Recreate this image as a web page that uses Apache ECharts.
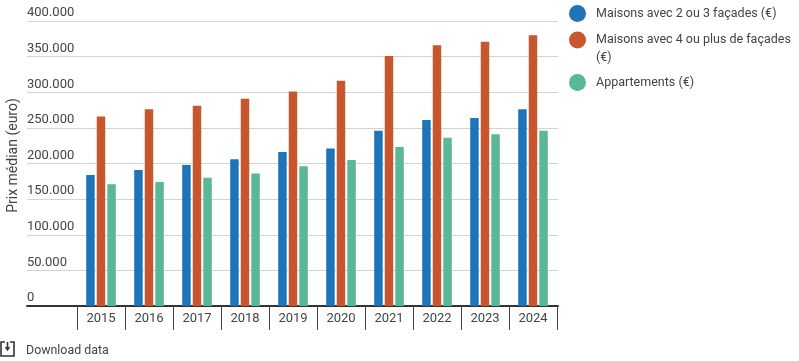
<!DOCTYPE html>
<html><head><meta charset="utf-8">
<style>html,body{margin:0;padding:0;background:#fff}#c{width:799px;height:361px}</style>
<script src="https://cdn.jsdelivr.net/npm/echarts@6/dist/echarts.min.js"></script>
</head><body><div id="c"></div>
<script>
const years = ['2015','2016','2017','2018','2019','2020','2021','2022','2023','2024'];
const maisons23 = [184000,191000,198000,206000,216000,221000,246000,261000,264000,276000];
const maisons4 = [266000,276000,281000,291000,301000,316000,351000,366000,371000,380000];
const appartements = [171000,174000,180000,186000,196000,205000,223000,236000,241000,246000];
const names = ['Maisons avec 2 ou 3 façades (€)','Maisons avec 4 ou plus de façades (€)','Appartements (€)'];
const yTitle = 'Prix médian (euro)';
const colors = ['#1f73b7','#c8562f','#5ab897'];
const ink = '#444';
const font = 'Roboto';
const fmt = v => String(v).replace(/\B(?=(\d{3})+$)/g,'.');
const chart = echarts.init(document.getElementById('c'),null,{renderer:'canvas'});
const mkLegend = (i,top,label) => ({
  left:569, top, orient:'vertical', padding:0, itemWidth:17, itemHeight:17, icon:'circle',
  data:[names[i]], selectedMode:false, itemGap:0,
  formatter:()=>label, textStyle:{color:ink,fontFamily:font,fontSize:12.5,padding:[2,0,0,5]}
});
const mkSeries = (i,d) => ({
  name:names[i], type:'bar', xAxisIndex:1, yAxisIndex:1, data:d, barWidth:8.5, barGap:'24%',
  itemStyle:{color:colors[i]}, silent:true
});
chart.setOption({
  animation:false,
  textStyle:{fontFamily:font},
  legend:[
    mkLegend(0,5,names[0]),
    mkLegend(1,31.5,'Maisons avec 4 ou plus de façades'),
    mkLegend(2,74,names[2])
  ],
  grid:[
    {left:27,width:531,top:21,height:285,outerBoundsMode:'none'},
    {left:77,width:480,top:21,height:285,outerBoundsMode:'none'}
  ],
  xAxis:[
    {gridIndex:0,type:'value',min:0,max:1,show:true,splitLine:{show:false},axisTick:{show:false},axisLabel:{show:false},
     axisLine:{show:true,onZero:false,lineStyle:{color:'#333',width:2}}},
    {gridIndex:1,type:'category',data:years,boundaryGap:true,
     axisLine:{show:false},
     axisTick:{show:true,length:24,lineStyle:{color:ink,width:1}},
     axisLabel:{color:ink,fontFamily:font,fontSize:13,margin:6.5}}
  ],
  yAxis:[
    {gridIndex:0,type:'value',min:0,max:400000,interval:50000,
     axisLine:{show:false},axisTick:{show:false},
     axisLabel:{inside:true,margin:0,align:'left',verticalAlign:'bottom',color:ink,fontFamily:font,fontSize:13,lineHeight:16,padding:[0,0,0,0],formatter:fmt},
     splitLine:{show:true,lineStyle:{color:'#d4d4d4',width:1}}},
    {gridIndex:1,type:'value',min:0,max:400000,interval:50000,show:false,splitLine:{show:false}}
  ],
  graphic:[
    {type:'text',x:13,y:155.5,rotation:Math.PI/2,style:{text:yTitle,fill:ink,font:'14px Roboto',align:'center',verticalAlign:'middle'}},
    {type:'text',left:596,top:51,style:{text:'(€)',fill:ink,font:'12.5px Roboto'}},
    {type:'text',left:26,top:344.5,style:{text:'Download data',fill:ink,font:'12.4px Roboto'}},
    {type:'polyline',shape:{points:[[5,342],[1,342],[1,356],[14,356],[14,342],[10,342]]},style:{stroke:'#333',lineWidth:1.6,fill:null}},
    {type:'polyline',shape:{points:[[7.5,342],[7.5,349]]},style:{stroke:'#333',lineWidth:1.6,fill:null}},
    {type:'polyline',shape:{points:[[5.5,347],[7.5,350],[9.5,347]]},style:{stroke:'#333',lineWidth:1.4,fill:null}}
  ],
  series:[mkSeries(0,maisons23),mkSeries(1,maisons4),mkSeries(2,appartements)]
});
</script></body></html>
